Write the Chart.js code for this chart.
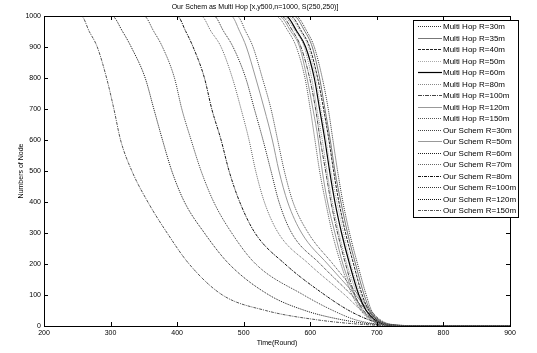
<!DOCTYPE html>
<html><head><meta charset="utf-8">
<script src="https://cdn.jsdelivr.net/npm/chart.js@4"></script>
<style>html,body{margin:0;padding:0;background:#fff}#wrap{width:537px;height:353px}</style>
</head><body><div id="wrap"><canvas id="c" width="537" height="353"></canvas></div>
<script>
const xTicks=[200,300,400,500,600,700,800,900];
const yTicks=[0,100,200,300,400,500,600,700,800,900,1000];
const startRound=200, endRound=900, totalNodes=1000;
// node-count levels at which each curve's crossing round was read
const levels=[1000,950,900,800,700,600,500,400,300,200,100,50,20,5,0];
const seriesLabels=["Multi Hop R=30m","Multi Hop R=35m","Multi Hop R=40m","Multi Hop R=50m","Multi Hop R=60m","Multi Hop R=80m","Multi Hop R=100m","Multi Hop R=120m","Multi Hop R=150m","Our Schem R=30m","Our Schem R=50m","Our Schem R=60m","Our Schem R=70m","Our Schem R=80m","Our Schem R=100m","Our Schem R=120m","Our Schem R=150m"];
const mh30 =[578,595,606,618,627,634,641,649,659,671,684,692,703,717,765];
const mh35 =[575,592,603,614,622,630,637,646,656,668,681,690,701,715,760];
const mh40 =[570,587,599,611,620,628,635,643,653,665,678,688,700,714,760];
const mh50 =[566,585,597,608,616,624,631,640,650,661,676,687,698,713,755];
const mh60 =[563,580,593,606,614,622,629,637,647,659,673,684,697,712,750];
const mh80 =[559,578,591,602,610,618,625,633,643,655,671,683,695,710,750];
const mh100=[556,574,586,599,608,615,623,631,641,653,667,680,694,709,745];
const mh120=[553,571,584,595,604,612,618,626,637,649,666,678,692,707,745];
const mh150=[548,567,579,592,600,607,614,623,633,646,663,676,690,706,740];
const os30 =[490,503,514,528,541,551,561,574,597,634,672,691,705,723,785];
const os50 =[481,494,504,518,531,543,553,566,587,626,668,688,703,721,780];
const os60 =[455,470,484,503,516,529,541,553,572,615,662,684,701,719,775];
const os70 =[436,451,466,483,496,508,518,531,552,598,652,677,697,716,770];
const os80 =[400,413,424,441,452,466,478,494,517,562,622,658,688,712,765];
const os100=[350,365,378,396,407,421,436,455,482,518,590,634,668,705,760];
const os120=[302,318,331,352,365,378,392,411,441,478,538,592,648,700,755];
const os150=[256,268,280,294,305,315,332,356,385,418,468,533,610,680,745];

const allRounds=[mh30,mh35,mh40,mh50,mh60,mh80,mh100,mh120,mh150,os30,os50,os60,os70,os80,os100,os120,os150];
const styles=[
 ['#333',[1,1],1],['#777',[],1],['#222',[3,1],1],['#aaa',[1,1],1],['#000',[],1.2],['#888',[1,1],1],
 ['#444',[4,1,1,1],1],['#999',[],1],['#555',[1,1],1],
 ['#444',[1,1],1],['#999',[],1],['#222',[1,1],1],['#666',[1,1],1],['#111',[3,1,1,1],1],
 ['#333',[1,1],1],['#111',[1,1],1],['#555',[3,1,1,1],1]
];
function buildData(r){
  const pts=[{x:startRound,y:totalNodes}];
  r.forEach((v,i)=>pts.push({x:v,y:levels[i]}));
  pts.push({x:endRound,y:0});
  return pts;
}
const datasets=allRounds.map((r,i)=>({
  label:seriesLabels[i], data:buildData(r),
  borderColor:styles[i][0], borderDash:styles[i][1], borderWidth:styles[i][2],
  pointRadius:0, fill:false, cubicInterpolationMode:'monotone'
}));

const FONT='"Liberation Sans", Arial, sans-serif';
const boxPlugin={
  id:'box',
  afterDatasetsDraw(chart){
    const {ctx,chartArea:a,scales:{x,y}}=chart;
    ctx.save();
    ctx.strokeStyle='#000';ctx.lineWidth=1;ctx.setLineDash([]);
    ctx.strokeRect(Math.round(a.left)+0.5,Math.round(a.top)+0.5,Math.round(a.right-a.left),Math.round(a.bottom-a.top));
    ctx.beginPath();
    xTicks.forEach(v=>{const px=Math.round(x.getPixelForValue(v))+0.5;
      ctx.moveTo(px,a.bottom);ctx.lineTo(px,a.bottom-4);ctx.moveTo(px,a.top);ctx.lineTo(px,a.top+4);});
    yTicks.forEach(v=>{const py=Math.round(y.getPixelForValue(v))+0.5;
      ctx.moveTo(a.left,py);ctx.lineTo(a.left+4,py);ctx.moveTo(a.right,py);ctx.lineTo(a.right-4,py);});
    ctx.stroke();
    // legend
    const lx=413, ly=20, lw=105, lh=197;
    ctx.fillStyle='#fff';ctx.fillRect(lx,ly,lw,lh);
    ctx.strokeRect(lx+0.5,ly+0.5,lw,lh);
    ctx.font='8px '+FONT;ctx.textBaseline='middle';ctx.textAlign='left';
    chart.data.datasets.forEach((d,i)=>{
      const yy=Math.round(26+i*11.5)+0.5;
      ctx.strokeStyle=d.borderColor;ctx.lineWidth=d.borderWidth;ctx.setLineDash(d.borderDash);
      ctx.beginPath();ctx.moveTo(418,yy);ctx.lineTo(442,yy);ctx.stroke();
      ctx.fillStyle='#000';ctx.fillText(d.label,443,yy);
    });
    ctx.restore();
  }
};

new Chart(document.getElementById('c'),{
  type:'line',
  data:{datasets},
  options:{
    responsive:false,animation:false,devicePixelRatio:1,
    layout:{padding:{left:0,right:27,top:0,bottom:0}},
    plugins:{
      legend:{display:false},tooltip:{enabled:false},
      title:{display:true,text:'Our Schem as Multi Hop [x,y500,n=1000, S(250,250)]',
        color:'#000',font:{family:FONT,size:7,weight:'normal'},padding:{top:3,bottom:4.6}}
    },
    scales:{
      x:{type:'linear',min:200,max:900,
        afterBuildTicks:s=>{s.ticks=xTicks.map(v=>({value:v}));},
        afterFit:s=>{s.height=27;},
        grid:{display:false,drawTicks:false},border:{display:false},
        ticks:{color:'#000',font:{family:FONT,size:7},padding:3,maxRotation:0,autoSkip:false,callback:v=>String(v)},
        title:{display:true,text:'Time(Round)',color:'#000',font:{family:FONT,size:7},padding:{top:0,bottom:6}}},
      y:{type:'linear',min:0,max:1000,
        afterBuildTicks:s=>{s.ticks=yTicks.map(v=>({value:v}));},
        afterFit:s=>{s.width=44;},
        grid:{display:false,drawTicks:false},border:{display:false},
        ticks:{color:'#000',font:{family:FONT,size:7},padding:3,autoSkip:false,callback:v=>String(v)},
        title:{display:true,text:'Numbers of Node',color:'#000',font:{family:FONT,size:7},padding:{top:17,bottom:0}}}
    }
  },
  plugins:[boxPlugin]
});
</script></body></html>
